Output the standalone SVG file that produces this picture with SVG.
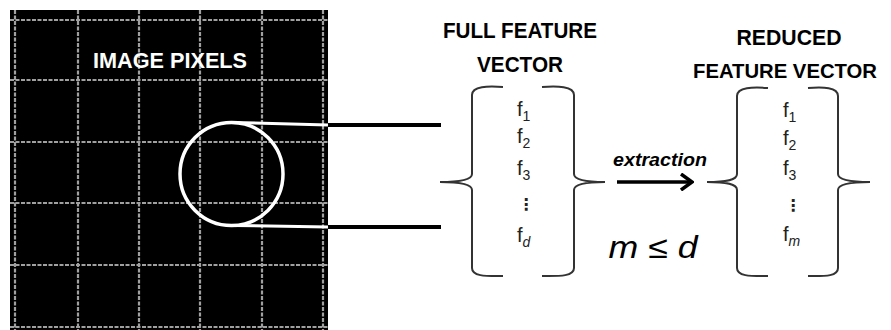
<svg xmlns="http://www.w3.org/2000/svg" width="891" height="330" viewBox="0 0 891 330">
<style>
.hdr{font-family:"Liberation Sans",Arial,sans-serif;font-weight:bold;font-size:22px;text-anchor:middle;}
.grid{stroke:#a0a0a0;stroke-width:2.2;stroke-dasharray:4 1.5;}
.brace{fill:none;stroke:#333;stroke-width:2;}
.f{font-family:"Liberation Sans",Arial,sans-serif;font-size:20px;fill:#222;}
.sub{font-size:14px;}
.it{font-style:italic;}
.dots{font-family:"DejaVu Sans",sans-serif;font-size:16px;font-weight:bold;fill:#222;text-anchor:middle;}
</style>
<defs>
<marker id="arr" viewBox="0 0 14 18" refX="12" refY="9" markerWidth="14" markerHeight="18" markerUnits="userSpaceOnUse" orient="auto">
<polyline points="1,1 12,9 1,17" fill="none" stroke="#000" stroke-width="3.5"/>
</marker>
</defs>
<rect width="891" height="330" fill="#fff"/>
<g id="image-pixels">
<rect x="10" y="10" width="318" height="320" fill="#000"/>
<g class="grid">
<line x1="15" y1="10" x2="15" y2="330"/>
<line x1="78" y1="10" x2="78" y2="330"/>
<line x1="139" y1="10" x2="139" y2="330"/>
<line x1="200" y1="10" x2="200" y2="330"/>
<line x1="262" y1="10" x2="262" y2="330"/>
<line x1="323" y1="10" x2="323" y2="330"/>
<line x1="10" y1="20" x2="328" y2="20"/>
<line x1="10" y1="80" x2="328" y2="80"/>
<line x1="10" y1="142" x2="328" y2="142"/>
<line x1="10" y1="203" x2="328" y2="203"/>
<line x1="10" y1="265" x2="328" y2="265"/>
<line x1="10" y1="327" x2="328" y2="327"/>
</g>
<text class="hdr" x="170" y="68" fill="#fff" textLength="154" lengthAdjust="spacingAndGlyphs">IMAGE PIXELS</text>
<circle cx="231.5" cy="174" r="51.5" fill="none" stroke="#fff" stroke-width="3.5"/>
</g>
<g id="connectors">
<line x1="233" y1="122.5" x2="328" y2="125" stroke="#fff" stroke-width="3"/>
<line x1="233" y1="225.5" x2="328" y2="227" stroke="#fff" stroke-width="3"/>
<line x1="328" y1="125" x2="441" y2="125" stroke="#000" stroke-width="4"/>
<line x1="328" y1="227" x2="441" y2="227" stroke="#000" stroke-width="4"/>
<line x1="617" y1="182" x2="692" y2="182" stroke="#000" stroke-width="3.5" marker-end="url(#arr)"/>
</g>
<g id="full-feature-vector">
<text class="hdr" x="520" y="38" fill="#000" textLength="154" lengthAdjust="spacingAndGlyphs">FULL FEATURE</text>
<text class="hdr" x="520" y="72" fill="#000" textLength="86" lengthAdjust="spacingAndGlyphs">VECTOR</text>
<path class="brace" d="M503,87 C488,86 472,86 472,95 L472,174 C472,180 460,182 440,182 C460,182 472,184 472,190 L472,268 C472,277 488,276 503,276"/>
<path class="brace" d="M542,87 C557,86 574,86 574,95 L574,174 C574,180 586,182 605,182 C586,182 574,184 574,190 L574,268 C574,277 557,276 542,276"/>
<text class="f" x="517" y="116">f<tspan class="sub" dy="5">1</tspan></text>
<text class="f" x="517" y="143">f<tspan class="sub" dy="5">2</tspan></text>
<text class="f" x="517" y="175">f<tspan class="sub" dy="5">3</tspan></text>
<text class="dots" x="526" y="210">⋮</text>
<text class="f" x="517" y="242">f<tspan class="sub it" dy="5">d</tspan></text>
</g>
<g id="extraction-label">
<text x="660" y="166" font-family="Liberation Sans,Arial,sans-serif" font-size="18" font-weight="bold" font-style="italic" fill="#000" text-anchor="middle" textLength="94" lengthAdjust="spacingAndGlyphs">extraction</text>
<text x="653" y="258" font-family="Liberation Sans,Arial,sans-serif" font-size="31" fill="#000" text-anchor="middle" textLength="89" lengthAdjust="spacingAndGlyphs"><tspan font-style="italic">m</tspan> ≤ <tspan font-style="italic">d</tspan></text>
</g>
<g id="reduced-feature-vector">
<text class="hdr" x="789" y="45" fill="#000" textLength="105" lengthAdjust="spacingAndGlyphs">REDUCED</text>
<text class="hdr" x="785" y="78" fill="#000" style="font-size:20.5px" textLength="184" lengthAdjust="spacingAndGlyphs">FEATURE VECTOR</text>
<path class="brace" d="M768,88 C753,87 737,87 737,96 L737,174 C737,180 727,182 707,182 C727,182 737,184 737,190 L737,268 C737,277 753,276 768,276"/>
<path class="brace" d="M808,88 C823,87 838,87 838,96 L838,174 C838,180 850,182 870,182 C850,182 838,184 838,190 L838,268 C838,277 823,276 808,276"/>
<text class="f" x="783" y="117">f<tspan class="sub" dy="5">1</tspan></text>
<text class="f" x="783" y="145">f<tspan class="sub" dy="5">2</tspan></text>
<text class="f" x="783" y="175">f<tspan class="sub" dy="5">3</tspan></text>
<text class="dots" x="793" y="211">⋮</text>
<text class="f" x="783" y="241">f<tspan class="sub it" dy="5">m</tspan></text>
</g>
</svg>
